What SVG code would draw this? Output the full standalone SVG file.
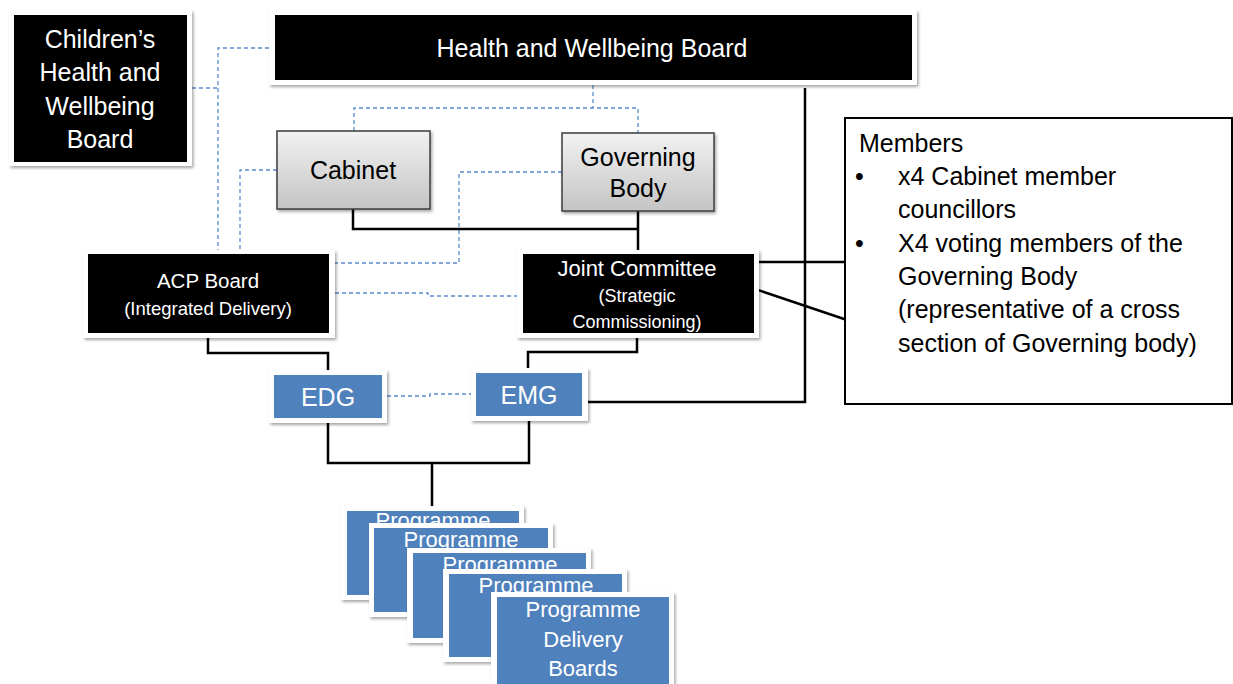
<svg xmlns="http://www.w3.org/2000/svg" width="1233" height="684" viewBox="0 0 1233 684">
<defs>
<filter id="sh" x="-10%" y="-10%" width="130%" height="140%">
<feDropShadow dx="1.5" dy="2" stdDeviation="1.5" flood-color="#000" flood-opacity="0.35"/>
</filter>
<linearGradient id="gr" x1="0" y1="0" x2="0" y2="1">
<stop offset="0" stop-color="#f2f2f2"/>
<stop offset="1" stop-color="#c4c4c4"/>
</linearGradient>
<style>
.frame{fill:#fff;filter:url(#sh)}
.blk{fill:#000}
.blue{fill:#4f81bd}
.gray{fill:url(#gr);stroke:#3c3c3c;stroke-width:1.5;filter:url(#sh)}
.t{font-family:"Liberation Sans",Arial,sans-serif;text-anchor:middle}
.w{fill:#fff}
.k{fill:#000}
.dash{fill:none;stroke:#5a8ccf;stroke-width:1.3;stroke-dasharray:4 3}
.solid{fill:none;stroke:#000;stroke-width:2.5}
.mt{font-family:"Liberation Sans",Arial,sans-serif;font-size:25px;fill:#000}
</style>
</defs>
<rect width="1233" height="684" fill="#fff"/>

<g id="connectors">
<path class="dash" d="M269,48 H218 V268"/>
<path class="dash" d="M171,88 H218"/>
<path class="dash" d="M277,170 H240 V250"/>
<path class="dash" d="M593,85 V108 M354,131 V108 H638 V133"/>
<path class="dash" d="M562,172 H459 V263 H335"/>
<path class="dash" d="M335,293 H428 V296 H517"/>
<path class="dash" d="M387,396 H430 V394 H471"/>
<path class="solid" d="M353,209 V229 H638 M638,211 V251"/>
<path class="solid" d="M208,337 V353 H328 V370"/>
<path class="solid" d="M637,337 V352 H528 V368"/>
<path class="solid" d="M328,421 V463 H529 V421 M432,463 V506"/>
<path class="solid" d="M805,88 V402 H588"/>
<path class="solid" d="M757,262 H845 M755,289 L847,320"/>
</g>

<g id="childrens-hwb">
<rect class="frame" x="9" y="10" width="183" height="156"/>
<rect class="blk" x="14" y="15" width="173" height="147"/>
<text class="t w" font-size="25" x="100" y="48">Children’s</text>
<text class="t w" font-size="25" x="100" y="81">Health and</text>
<text class="t w" font-size="25" x="100" y="115">Wellbeing</text>
<text class="t w" font-size="25" x="100" y="148">Board</text>
</g>

<g id="hwb">
<rect class="frame" x="269" y="10" width="648" height="75"/>
<rect class="blk" x="275" y="15" width="637" height="65"/>
<text class="t w" font-size="25" x="592" y="57">Health and Wellbeing Board</text>
</g>

<g id="cabinet">
<rect class="gray" x="277" y="131" width="153" height="78"/>
<text class="t k" font-size="25" x="353" y="179">Cabinet</text>
</g>

<g id="governing-body">
<rect class="gray" x="562" y="133" width="152" height="78"/>
<text class="t k" font-size="25" x="638" y="166">Governing</text>
<text class="t k" font-size="25" x="638" y="197">Body</text>
</g>

<g id="acp-board">
<rect class="frame" x="83" y="250" width="252" height="88"/>
<rect class="blk" x="88" y="254" width="241" height="79"/>
<text class="t w" font-size="20.5" x="208" y="288">ACP Board</text>
<text class="t w" font-size="18.5" x="208" y="315">(Integrated Delivery)</text>
</g>

<g id="joint-committee">
<rect class="frame" x="517" y="250" width="242" height="88"/>
<rect class="blk" x="523" y="254" width="231" height="79"/>
<text class="t w" font-size="22" x="637" y="276">Joint Committee</text>
<text class="t w" font-size="18" x="637" y="302">(Strategic</text>
<text class="t w" font-size="18" x="637" y="328">Commissioning)</text>
</g>

<g id="edg">
<rect class="frame" x="269" y="370" width="118" height="53"/>
<rect class="blue" x="274" y="375" width="108" height="43"/>
<text class="t w" font-size="25" x="328" y="406">EDG</text>
</g>

<g id="emg">
<rect class="frame" x="471" y="368" width="117" height="53"/>
<rect class="blue" x="476" y="373" width="106" height="43"/>
<text class="t w" font-size="25" x="529" y="404">EMG</text>
</g>

<g id="members">
<rect x="845" y="118" width="387" height="286" fill="#fff" stroke="#000" stroke-width="2"/>
<text class="mt" x="859" y="152">Members</text>
<text class="mt" x="855" y="185">•</text>
<text class="mt" x="898" y="185">x4 Cabinet member</text>
<text class="mt" x="898" y="218">councillors</text>
<text class="mt" x="855" y="252">•</text>
<text class="mt" x="898" y="252">X4 voting members of the</text>
<text class="mt" x="898" y="285">Governing Body</text>
<text class="mt" x="898" y="318">(representative of a cross</text>
<text class="mt" x="898" y="352">section of Governing body)</text>
</g>

<g id="programme-1">
<rect class="frame" x="341" y="506" width="183" height="94"/>
<rect class="blue" x="347" y="511" width="172" height="84"/>
<text class="t w" font-size="22" x="433" y="528">Programme</text>
</g>
<g id="programme-2">
<rect class="frame" x="369" y="523" width="184" height="94"/>
<rect class="blue" x="374" y="528" width="174" height="84"/>
<text class="t w" font-size="22" x="461" y="547">Programme</text>
</g>
<g id="programme-3">
<rect class="frame" x="407" y="548" width="184" height="95"/>
<rect class="blue" x="413" y="553" width="173" height="85"/>
<text class="t w" font-size="22" x="500" y="572">Programme</text>
</g>
<g id="programme-4">
<rect class="frame" x="443" y="569" width="184" height="93"/>
<rect class="blue" x="449" y="574" width="173" height="83"/>
<text class="t w" font-size="22" x="536" y="593">Programme</text>
</g>
<g id="programme-5">
<rect class="frame" x="491" y="592" width="183" height="96"/>
<rect class="blue" x="497" y="597" width="172" height="90"/>
<text class="t w" font-size="22" x="583" y="617">Programme</text>
<text class="t w" font-size="22" x="583" y="647">Delivery</text>
<text class="t w" font-size="22" x="583" y="676">Boards</text>
</g>
</svg>
